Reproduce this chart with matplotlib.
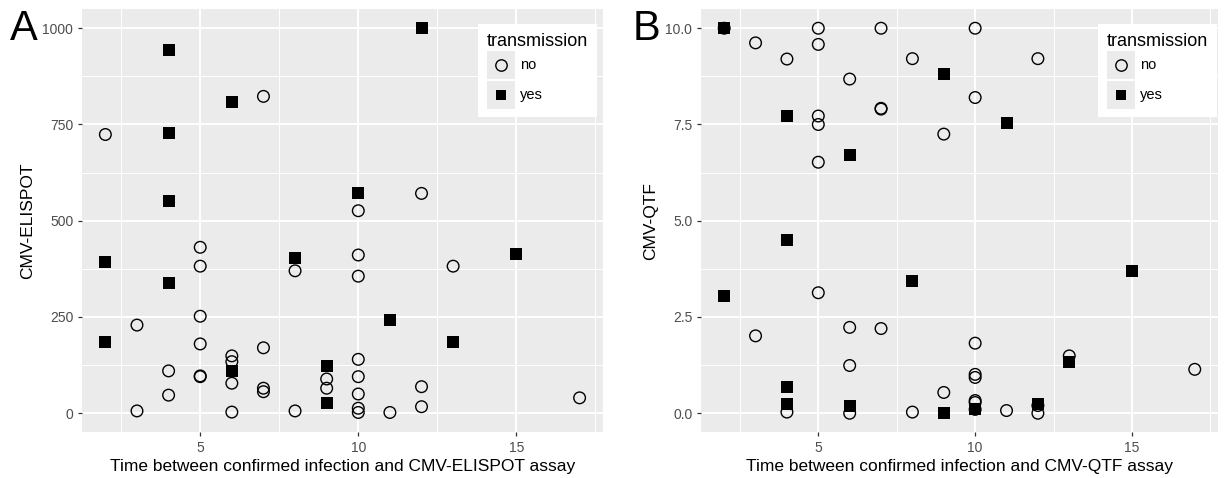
import matplotlib.pyplot as plt
from matplotlib.patches import Rectangle
from matplotlib.lines import Line2D
from matplotlib.legend_handler import HandlerTuple, HandlerLine2D
from matplotlib.ticker import FormatStrFormatter

plt.rcParams['font.family'] = ['Liberation Sans', 'DejaVu Sans']

# panel A: CMV-ELISPOT vs time (days)
elispot_no_days = [2, 3, 3, 4, 4, 5, 5, 5, 5, 5, 5, 6, 6, 6, 6, 7, 7, 7, 7,
                   8, 8, 9, 9, 10, 10, 10, 10, 10, 10, 10, 10, 11, 12, 12, 12, 13, 17]
elispot_no = [724, 229, 6, 110, 47, 431, 382, 252, 180, 97, 95, 149, 134, 78, 3,
              823, 170, 65, 56, 370, 6, 89, 65, 526, 411, 356, 140, 95, 50, 13, 2,
              2, 571, 69, 17, 382, 40]
elispot_yes_days = [2, 2, 4, 4, 4, 4, 6, 6, 8, 9, 9, 10, 11, 12, 13, 15]
elispot_yes = [392, 186, 943, 727, 551, 337, 809, 111, 402, 123, 27, 572, 242, 1000, 184, 413]

# panel B: CMV-QTF vs time (days)
qtf_no_days = [2, 3, 3, 4, 4, 5, 5, 5, 5, 5, 5, 6, 6, 6, 6, 7, 7, 7, 7,
               8, 8, 9, 9, 10, 10, 10, 10, 10, 10, 10, 10, 11, 12, 12, 12, 13, 17]
qtf_no = [10.0, 9.62, 2.01, 9.2, 0.03, 10.0, 9.58, 7.72, 7.5, 6.52, 3.13,
          8.68, 2.23, 1.24, 0.0, 10.0, 7.92, 7.9, 2.2, 9.21, 0.03, 7.25, 0.54,
          10.0, 8.2, 1.82, 1.01, 0.93, 0.33, 0.28, 0.1, 0.07, 9.21, 0.2, 0.0, 1.49, 1.14]
qtf_yes_days = [2, 2, 4, 4, 4, 4, 6, 6, 8, 9, 9, 10, 11, 12, 13, 15]
qtf_yes = [10.0, 3.05, 7.72, 4.5, 0.67, 0.24, 6.7, 0.19, 3.43, 8.81, 0.0, 0.11, 7.53, 0.24, 1.32, 3.7]

x_ticks = [5, 10, 15]
x_minor = [2.5, 7.5, 12.5, 17.5]


class CenteredMarker(HandlerLine2D):
    # put the marker in the middle of the grey key box
    def create_artists(self, legend, orig_handle, xdescent, ydescent, width, height, fontsize, trans):
        return super().create_artists(legend, orig_handle, xdescent, ydescent,
                                      width, height - ydescent, fontsize, trans)


def style(ax, yticks, yminor):
    ax.set_facecolor('#EBEBEB')
    for s in ax.spines.values():
        s.set_visible(False)
    ax.set_xticks(x_ticks)
    ax.set_xticks(x_minor, minor=True)
    ax.set_yticks(yticks)
    ax.set_yticks(yminor, minor=True)
    ax.grid(which='major', color='white', lw=1.4)
    ax.grid(which='minor', color='white', lw=0.7)
    ax.set_axisbelow(True)
    ax.tick_params(which='major', length=3, width=0.9, color='#333333',
                   labelcolor='#4D4D4D', labelsize=10, pad=3)
    ax.tick_params(which='minor', length=0)
    ax.set_xlim(1.25, 17.75)


def draw(ax, xn, yn, xy, yy):
    ax.scatter(xn, yn, marker='o', s=70, facecolors='none', edgecolors='black', linewidths=1.0, zorder=3)
    ax.scatter(xy, yy, marker='s', s=64, color='black', linewidths=0, zorder=3)


def legend(ax, anchor):
    bg = Rectangle((0, 0), 1, 1, facecolor='#EBEBEB', edgecolor='none')
    h_no = Line2D([], [], marker='o', ls='', mfc='none', mec='black', ms=8.2, mew=1.0)
    h_yes = Line2D([], [], marker='s', ls='', mfc='black', mec='black', ms=7.6, mew=0)
    ax.legend(handles=[(bg, h_no), (bg, h_yes)], labels=['no', 'yes'], title='transmission',
              loc='upper right', bbox_to_anchor=anchor, borderaxespad=0,
              facecolor='white', edgecolor='none', fancybox=False, framealpha=1,
              fontsize=10.5, title_fontsize=13, handlelength=1.92, handleheight=2.58,
              labelspacing=0.1, handletextpad=0.35, borderpad=0.6, alignment='left',
              handler_map={tuple: HandlerTuple(ndivide=1), Line2D: CenteredMarker()})


fig = plt.figure(figsize=(12.26, 4.78), dpi=100)
axA = fig.add_axes([0.0666, 0.0952, 0.4255, 0.886])
axB = fig.add_axes([0.5715, 0.0952, 0.4222, 0.886])

style(axA, [0, 250, 500, 750, 1000], [125, 375, 625, 875])
axA.set_ylim(-50, 1050)
draw(axA, elispot_no_days, elispot_no, elispot_yes_days, elispot_yes)
axA.set_xlabel('Time between confirmed infection and CMV-ELISPOT assay', fontsize=12.5, labelpad=3)
axA.set_ylabel('CMV-ELISPOT', fontsize=12.5, labelpad=5)
legend(axA, (0.988, 0.965))

style(axB, [0, 2.5, 5, 7.5, 10], [1.25, 3.75, 6.25, 8.75])
axB.set_ylim(-0.5, 10.5)
axB.yaxis.set_major_formatter(FormatStrFormatter('%.1f'))
draw(axB, qtf_no_days, qtf_no, qtf_yes_days, qtf_yes)
axB.set_xlabel('Time between confirmed infection and CMV-QTF assay', fontsize=12.5, labelpad=3)
axB.set_ylabel('CMV-QTF', fontsize=12.5, labelpad=5)
legend(axB, (0.997, 0.965))

fig.text(10 / 1226, 1 - 40 / 478, 'A', fontsize=30, va='baseline')
fig.text(633 / 1226, 1 - 40 / 478, 'B', fontsize=30, va='baseline')

fig.savefig('out.png', dpi=100)
